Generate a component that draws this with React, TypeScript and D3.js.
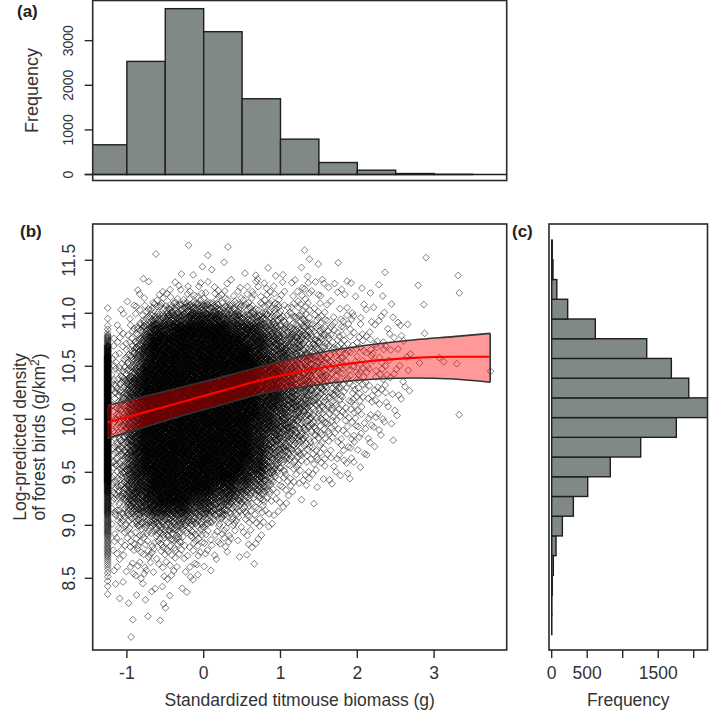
import React from "react";
import * as d3 from "d3";

// ---------- data ----------
const histABreaks = [-1.5, -1, -0.5, 0, 0.5, 1, 1.5, 2, 2.5, 3, 3.5];
const histACounts = [666, 2535, 3717, 3201, 1698, 793, 269, 97, 22, 5];
const histATicks = [0, 1000, 2000, 3000];

// panel (c): 20 equal bins over the response range, bottom -> top
const histCRange = [7.97, 11.69];
const histCCounts = [2, 3, 8, 23, 61, 150, 305, 507, 825, 1253, 1755, 2250, 1930, 1685, 1338, 614, 225, 72, 18, 8];
const histCTicks = [0, 500, 1000, 1500, 2000];
const histCTickLabels = ["0", "500", "", "1500", ""];

const xTicks = [-1, 0, 1, 2, 3];
const yTicks = [8.5, 9, 9.5, 10, 10.5, 11, 11.5];
const yTickLabels = ["8.5", "9.0", "9.5", "10.0", "10.5", "11.0", "11.5"];

// fitted curve and confidence band
const fitX = [-1.25, -0.75, -0.25, 0.25, 0.75, 1.25, 1.75, 2.25, 2.75, 3.25, 3.73];
const fitY = [9.97, 10.07, 10.17, 10.27, 10.37, 10.45, 10.51, 10.555, 10.58, 10.59, 10.59];
const fitUp = [10.13, 10.22, 10.31, 10.40, 10.50, 10.59, 10.66, 10.71, 10.75, 10.78, 10.81];
const fitLo = [9.82, 9.93, 10.04, 10.14, 10.24, 10.30, 10.35, 10.38, 10.39, 10.38, 10.35];

// scatter density: columns of 0.1 from x=-1.2, rows of 0.1 from y=11.8 down
const gridX0 = -1.2;
const gridYTop = 11.8;
const gridStep = 0.1;
const densityRows = [
  "0000000000 0000000000 0000000000 0000000000 0000000000",
  "0000000000 1000010000 0000000000 0000000000 0000000000",
  "0000010000 0010000000 0000020000 0000000000 1000000000",
  "0000000000 0101100000 1000101001 0000000000 0000000000",
  "0000100001 1000010111 0111010100 1000010000 0000010000",
  "0001101122 1212112122 2121222112 0110100001 0000000000",
  "0011112222 3333222222 2211221111 1101010000 0000010000",
  "0112344556 6666555444 4433332211 1111111000 1000000000",
  "0112466777 8888777666 5544443322 2211111100 0000000000",
  "1234688899 9999988887 6655554433 2221111110 1000000000",
  "2235799999 9999999888 7766655443 3222211110 0000000000",
  "2346899999 9999999988 7776655444 3322221110 0000000000",
  "3356899999 9999999998 8776665544 3322221110 1011100000",
  "3457999999 9999999998 8877665544 3332221110 0000000001",
  "4578999999 9999999998 8877665544 3332221110 0000000000",
  "4578999999 9999999998 8877665544 3332221110 0000000000",
  "4578999999 9999999998 8877665443 3322211100 0000000000",
  "4578999999 9999999998 8776654433 3322211100 0000010000",
  "4578999999 9999999988 8776554433 2222111000 0000000000",
  "4578999999 9999999988 7766544332 2221111000 0000000000",
  "4578999999 9999999988 7665443322 2211100000 0000000000",
  "4578999999 9999999988 6654433222 1111000000 0000000000",
  "4578999999 9999999888 6543322211 1110000000 0000000000",
  "4578899999 9999998877 5432221111 1100000000 0000000000",
  "4578899999 9998887766 4322111010 0000000000 0000000000",
  "4577889999 8887776544 3211101000 0000000000 0000000000",
  "4467788888 7776654433 2110000000 0000000000 0000000000",
  "3445566666 6554433322 1100000000 0000000000 0000000000",
  "2334445554 4433322212 1000000000 0000000000 0000000000",
  "2233334443 3322221111 0000000000 0000000000 0000000000",
  "2222233332 2221111110 0000000000 0000000000 0000000000",
  "1122222221 2111000010 0000000000 0000000000 0000000000",
  "1111211111 1110000000 0000000000 0000000000 0000000000",
  "1101111101 1000000000 0000000000 0000000000 0000000000",
  "0101010101 0000000000 0000000000 0000000000 0000000000",
  "0010101100 0000000000 0000000000 0000000000 0000000000",
  "0010101000 0000000000 0000000000 0000000000 0000000000",
  "0000000000 0000000000 0000000000 0000000000 0000000000",
  "0010000000 0000000000 0000000000 0000000000 0000000000",
];
// the column of sites at the minimum biomass value
const stripeX = -1.25;
const stripeLevels = "000000011368999999999999877665543210000";
const levelCounts = [0, 1, 2, 3, 5, 8, 12, 18, 27, 40];

// ---------- layout ----------
const W = 709;
const H = 711;
const FONT = "'Liberation Sans', Arial, Helvetica, sans-serif";
const boxL = 92.7, boxR = 506.7;
const aTop = 0.5, aBot = 180.5;
const bTop = 224, bBot = 650;
const cL = 549, cR = 707.5;

const x = d3.scaleLinear().domain([-1.445, 3.945]).range([boxL, boxR]);
const y = d3.scaleLinear().domain([7.824, 11.842]).range([bBot, bTop]);
const yA = d3.scaleLinear().domain([-134, 3900]).range([aBot, aTop]);
const xC = d3.scaleLinear().domain([-38, 2194]).range([cL, cR]);

function vdc(n: number, base: number) {
  let v = 0, denom = 1;
  while (n > 0) { denom *= base; v += (n % base) / denom; n = Math.floor(n / base); }
  return v;
}

function buildPoints() {
  const pts: [number, number][] = [];
  const rows = densityRows.map((r) => r.replace(/ /g, ""));
  rows.forEach((row, r) => {
    for (let c = 0; c < row.length; c++) {
      const n = levelCounts[+row[c]];
      const seed = (r * 7 + c * 13) % 61;
      for (let k = 0; k < n; k++) {
        const i = seed + k + 1;
        pts.push([gridX0 + (c + vdc(i, 2)) * gridStep, gridYTop - (r + vdc(i, 3)) * gridStep]);
      }
    }
  });
  for (let r = 0; r < stripeLevels.length; r++) {
    const n = levelCounts[+stripeLevels[r]];
    for (let k = 0; k < n; k++) {
      pts.push([stripeX, gridYTop - (r + (k + 0.5) / n) * gridStep]);
    }
  }
  return pts;
}

const points = buildPoints();

export default function App() {
  const ds = 3.4;
  const diamond = (px: number, py: number) =>
    `M${px.toFixed(1)},${(py - ds).toFixed(1)}L${(px + ds).toFixed(1)},${py.toFixed(1)}L${px.toFixed(1)},${(py + ds).toFixed(1)}L${(px - ds).toFixed(1)},${py.toFixed(1)}Z`;

  const bandData = fitX.map((v, i) => ({ x: v, lo: fitLo[i], hi: fitUp[i], m: fitY[i] }));
  const area = d3.area<any>().x((d) => x(d.x)).y0((d) => y(d.lo)).y1((d) => y(d.hi)).curve(d3.curveMonotoneX);
  const upLine = d3.line<any>().x((d) => x(d.x)).y((d) => y(d.hi)).curve(d3.curveMonotoneX);
  const loLine = d3.line<any>().x((d) => x(d.x)).y((d) => y(d.lo)).curve(d3.curveMonotoneX);
  const midLine = d3.line<any>().x((d) => x(d.x)).y((d) => y(d.m)).curve(d3.curveMonotoneX);
  const last = bandData[bandData.length - 1];
  const first = bandData[0];

  const cStep = (histCRange[1] - histCRange[0]) / histCCounts.length;

  const boxStroke = "#2a2a2a";
  const barFill = "#818986";

  return (
    <svg width={W} height={H} style={{ position: "absolute", left: 0, top: 0, background: "#fff" }} fontFamily={FONT}>
      <defs>
        <clipPath id="clipA"><rect x={boxL} y={aTop} width={boxR - boxL} height={aBot - aTop} /></clipPath>
        <clipPath id="clipB"><rect x={boxL} y={bTop} width={boxR - boxL} height={bBot - bTop} /></clipPath>
        <clipPath id="clipC"><rect x={cL} y={bTop} width={cR - cL} height={bBot - bTop} /></clipPath>
      </defs>
      <rect x={0} y={0} width={W} height={H} fill="#fff" />

      {/* ---------- panel (a) ---------- */}
      <g clipPath="url(#clipA)">
        {histACounts.map((v, i) => (
          <rect key={i} x={x(histABreaks[i])} y={yA(v)} width={x(histABreaks[i + 1]) - x(histABreaks[i])}
            height={yA(0) - yA(v)} fill={barFill} stroke="#1e1e1e" strokeWidth={1.4} />
        ))}
      </g>
      <line x1={boxL - 8} x2={boxR} y1={yA(0)} y2={yA(0)} stroke="#1e1e1e" strokeWidth={1.4} />
      <rect x={boxL} y={aTop} width={boxR - boxL} height={aBot - aTop} fill="none" stroke={boxStroke} strokeWidth={1.6} />
      {histATicks.map((t) => (
        <g key={t}>
          <line x1={boxL - 8} x2={boxL} y1={yA(t)} y2={yA(t)} stroke={boxStroke} strokeWidth={1.4} />
          <text transform={`translate(72.5,${yA(t)}) rotate(-90)`} textAnchor="middle" fontSize={14} fill="#333">{t}</text>
        </g>
      ))}
      <text transform={`translate(38,${(aTop + aBot) / 2}) rotate(-90)`} textAnchor="middle" fontSize={18} fill="#333">Frequency</text>
      <text x={17} y={17} fontSize={17} fontWeight="bold" fill="#222">(a)</text>

      {/* ---------- panel (b) ---------- */}
      <g clipPath="url(#clipB)">
        {points.map((p, i) => (
          <path key={i} d={diamond(x(p[0]), y(p[1]))} fill="none" stroke="#000" strokeOpacity={0.5} strokeWidth={1} />
        ))}
        <path d={area(bandData) || ""} fill="rgb(255,0,0)" fillOpacity={0.4} stroke="none" />
        <path d={upLine(bandData) || ""} fill="none" stroke="#333" strokeWidth={1.6} />
        <path d={loLine(bandData) || ""} fill="none" stroke="#333" strokeWidth={1.6} />
        <line x1={x(last.x)} x2={x(last.x)} y1={y(last.lo)} y2={y(last.hi)} stroke="#333" strokeWidth={1.6} />
        <line x1={x(first.x)} x2={x(first.x)} y1={y(first.lo)} y2={y(first.hi)} stroke="#333" strokeWidth={1} strokeOpacity={0.6} />
        <path d={midLine(bandData) || ""} fill="none" stroke="#ff0000" strokeWidth={2.2} />
      </g>
      <rect x={boxL} y={bTop} width={boxR - boxL} height={bBot - bTop} fill="none" stroke={boxStroke} strokeWidth={1.6} />
      {xTicks.map((t) => (
        <g key={t}>
          <line x1={x(t)} x2={x(t)} y1={bBot} y2={bBot + 8} stroke={boxStroke} strokeWidth={1.4} />
          <text x={x(t)} y={679} textAnchor="middle" fontSize={17.5} fill="#333">{t}</text>
        </g>
      ))}
      {yTicks.map((t, i) => (
        <g key={t}>
          <line x1={boxL - 8} x2={boxL} y1={y(t)} y2={y(t)} stroke={boxStroke} strokeWidth={1.4} />
          <text transform={`translate(75,${y(t)}) rotate(-90)`} textAnchor="middle" fontSize={17.5} fill="#333">{yTickLabels[i]}</text>
        </g>
      ))}
      <text x={(boxL + boxR) / 2} y={706} textAnchor="middle" fontSize={17.5} fill="#333">Standardized titmouse biomass (g)</text>
      <text transform={`translate(26,437) rotate(-90)`} textAnchor="middle" fontSize={17.5} fill="#333">Log-predicted density</text>
      <text transform={`translate(45,437) rotate(-90)`} textAnchor="middle" fontSize={17.5} fill="#333">
        of forest birds (g/km<tspan dy={-6} fontSize={12}>2</tspan><tspan dy={6}>)</tspan>
      </text>
      <text x={20} y={237} fontSize={17} fontWeight="bold" fill="#222">(b)</text>

      {/* ---------- panel (c) ---------- */}
      <g clipPath="url(#clipC)">
        {histCCounts.map((v, i) => {
          const y0 = histCRange[0] + i * cStep;
          const y1 = y0 + cStep;
          return (
            <rect key={i} x={xC(0)} y={y(y1)} width={Math.max(0, xC(v) - xC(0))} height={y(y0) - y(y1)}
              fill={barFill} stroke="#1e1e1e" strokeWidth={1.4} />
          );
        })}
      </g>
      <rect x={cL} y={bTop} width={cR - cL} height={bBot - bTop} fill="none" stroke={boxStroke} strokeWidth={1.6} />
      {histCTicks.map((t, i) => (
        <g key={t}>
          <line x1={xC(t)} x2={xC(t)} y1={bBot} y2={bBot + 8} stroke={boxStroke} strokeWidth={1.4} />
          {histCTickLabels[i] ? (
            <text x={xC(t)} y={679} textAnchor="middle" fontSize={17.5} fill="#333">{histCTickLabels[i]}</text>
          ) : null}
        </g>
      ))}
      <text x={(cL + cR) / 2} y={706} textAnchor="middle" fontSize={17.5} fill="#333">Frequency</text>
      <text x={512} y={237} fontSize={17} fontWeight="bold" fill="#222">(c)</text>
    </svg>
  );
}
